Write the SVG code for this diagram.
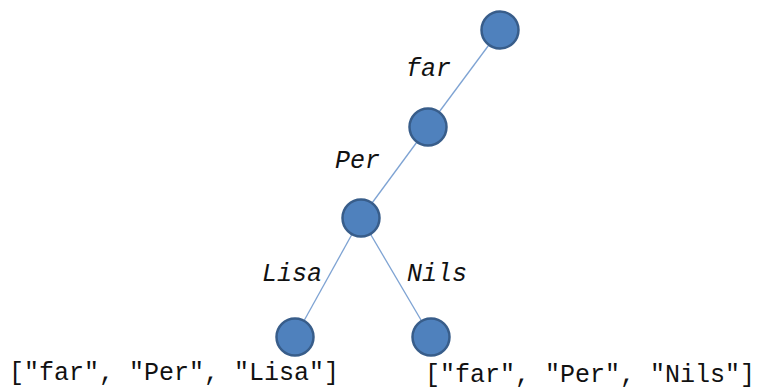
<svg xmlns="http://www.w3.org/2000/svg" width="760" height="389" viewBox="0 0 760 389">
<style>
.node{fill:#4F81BD;stroke:#385D8A;stroke-width:2.5}
.edge{stroke:#7EA3D3;stroke-width:1.3;fill:none}
.lbl{font-family:"Liberation Mono","Courier New",monospace;font-style:italic;font-size:25px;fill:#111}
.path{font-family:"Liberation Mono","Courier New",monospace;font-size:25px;fill:#111}
</style>
<rect width="760" height="389" fill="#fff"/>
<g id="connectors">
<line class="edge" x1="500" y1="30" x2="428" y2="127"/>
<line class="edge" x1="428" y1="127" x2="361" y2="218"/>
<line class="edge" x1="361" y1="218" x2="295" y2="337"/>
<line class="edge" x1="361" y1="218" x2="431" y2="337"/>
<text class="lbl" x="406" y="76">far</text>
<text class="lbl" x="335" y="168">Per</text>
<text class="lbl" x="262" y="281">Lisa</text>
<text class="lbl" x="407" y="281">Nils</text>
</g>
<g id="root"><circle class="node" cx="500" cy="30" r="18.5"/></g>
<g id="far"><circle class="node" cx="428" cy="127" r="18.5"/></g>
<g id="per"><circle class="node" cx="361" cy="218" r="18.5"/></g>
<g id="lisa"><circle class="node" cx="295" cy="337" r="18.5"/>
<text class="path" x="9" y="380">["far", "Per", "Lisa"]</text></g>
<g id="nils"><circle class="node" cx="431" cy="337" r="18.5"/>
<text class="path" x="425" y="382">["far", "Per", "Nils"]</text></g>
</svg>
